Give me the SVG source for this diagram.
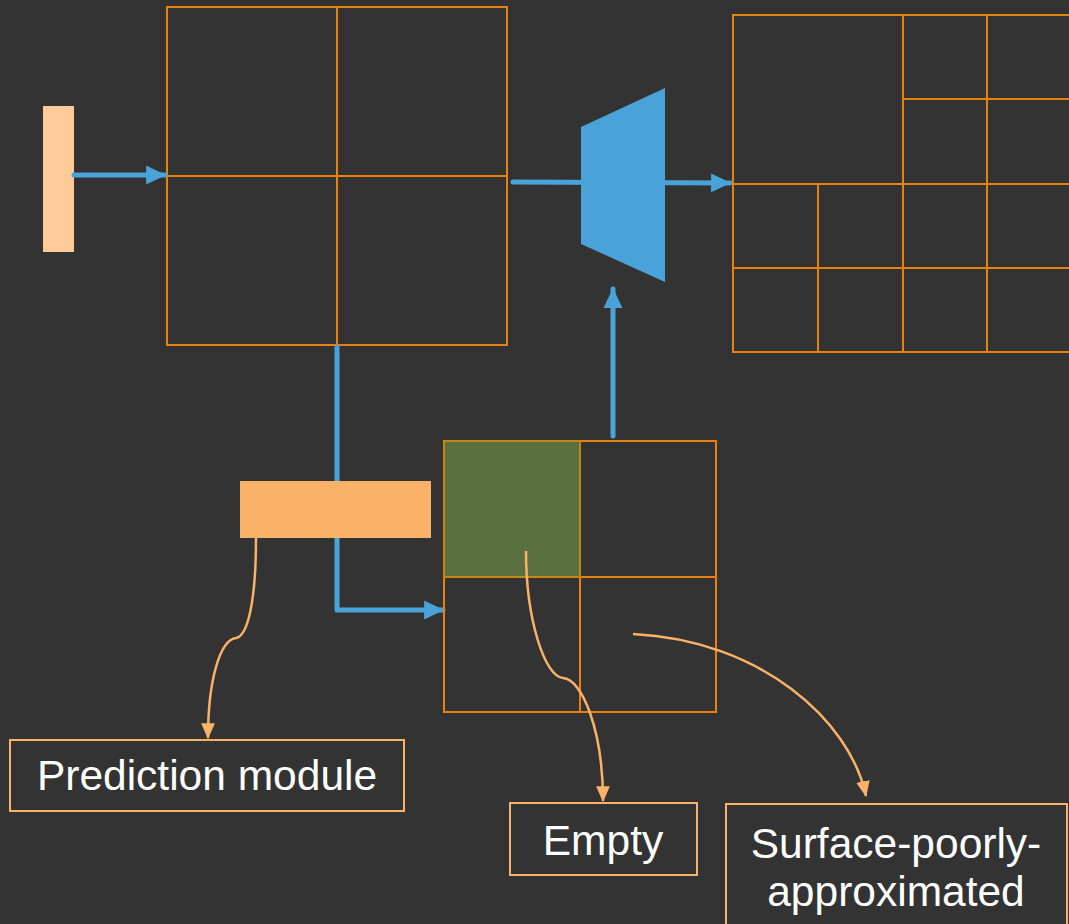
<svg xmlns="http://www.w3.org/2000/svg" width="1069" height="924" viewBox="0 0 1069 924">
  <defs>
    <style>
      .grid { fill: none; stroke: #E8810F; stroke-width: 2; }
      .flow { fill: none; stroke: #4AA3D8; stroke-width: 5; stroke-linecap: round; stroke-linejoin: round; }
      .callout { fill: none; stroke: #F9B268; stroke-width: 2.5; }
      .label-box { fill: none; stroke: #F9B268; stroke-width: 2; }
      .label { font-family: "Liberation Sans", Arial, sans-serif; font-size: 42.5px; fill: #FFFFFF; text-anchor: middle; }
    </style>
    <marker id="blueHead" markerUnits="userSpaceOnUse" markerWidth="20" markerHeight="20" viewBox="0 0 18 18" refX="17" refY="9" orient="auto">
      <path d="M0,0.5 L18,9 L0,17.5 Z" fill="#4AA3D8"/>
    </marker>
    <marker id="orangeHead" markerUnits="userSpaceOnUse" markerWidth="16" markerHeight="16" viewBox="0 0 14 14" refX="13" refY="7" orient="auto">
      <path d="M0,1 L14,7 L0,13 Z" fill="#F9B268"/>
    </marker>
  </defs>

  <rect width="1069" height="924" fill="#333333"/>

  <!-- input feature bar -->
  <g id="input-bar">
    <rect x="43" y="106" width="31" height="146" fill="#FDCB98"/>
  </g>

  <!-- coarse 2x2 grid -->
  <g id="coarse-grid">
    <rect class="grid" x="167" y="7" width="340" height="338"/>
    <line class="grid" x1="337" y1="7" x2="337" y2="345"/>
    <line class="grid" x1="167" y1="176" x2="507" y2="176"/>
  </g>

  <!-- connectors -->
  <g id="connectors">
    <line class="flow" x1="74" y1="175" x2="165" y2="175" marker-end="url(#blueHead)"/>
    <line class="flow" x1="513" y1="182" x2="730" y2="183" marker-end="url(#blueHead)"/>
    <polyline class="flow" points="337,347 337,610 443,610" marker-end="url(#blueHead)"/>
    <line class="flow" x1="613" y1="436" x2="613" y2="289" marker-end="url(#blueHead)"/>
  </g>

  <!-- decoder block -->
  <g id="decoder">
    <polygon points="581,127 665,88 665,282 581,244" fill="#4AA3D8"/>
  </g>

  <!-- refined octree grid -->
  <g id="refined-grid">
    <rect class="grid" x="733" y="15" width="340" height="337"/>
    <line class="grid" x1="903" y1="15" x2="903" y2="352"/>
    <line class="grid" x1="987" y1="15" x2="987" y2="352"/>
    <line class="grid" x1="818" y1="184" x2="818" y2="352"/>
    <line class="grid" x1="733" y1="184" x2="1073" y2="184"/>
    <line class="grid" x1="903" y1="99" x2="1073" y2="99"/>
    <line class="grid" x1="733" y1="268" x2="1073" y2="268"/>
  </g>

  <!-- prediction module bar -->
  <g id="prediction-bar">
    <rect x="240" y="481" width="191" height="57" fill="#F9B268"/>
  </g>

  <!-- cell classification grid -->
  <g id="cell-grid">
    <rect x="444" y="441" width="136" height="136" fill="#5A713F"/>
    <rect class="grid" x="444" y="441" width="272" height="271"/>
    <line class="grid" x1="580" y1="441" x2="580" y2="712"/>
    <line class="grid" x1="444" y1="577" x2="716" y2="577"/>
    <rect x="444" y="441" width="136" height="136" fill="none" stroke="#B88A10" stroke-width="1.5"/>
  </g>

  <!-- callout curves -->
  <g id="callouts">
    <path class="callout" d="M256,538 C256,600 248,636 236,638 C220,640 208,680 208,738" marker-end="url(#orangeHead)"/>
    <path class="callout" d="M526,551 C526,620 545,677 563,678 C582,679 603,730 603,801" marker-end="url(#orangeHead)"/>
    <path class="callout" d="M633,634 C760,640 850,720 866,796" marker-end="url(#orangeHead)"/>
  </g>

  <g id="label-prediction">
    <rect class="label-box" x="10" y="740" width="394" height="71"/>
    <text class="label" x="207" y="790">Prediction module</text>
  </g>

  <g id="label-empty">
    <rect class="label-box" x="510" y="803" width="187" height="72"/>
    <text class="label" x="603" y="855">Empty</text>
  </g>

  <g id="label-surface">
    <rect class="label-box" x="726" y="804" width="341" height="130"/>
    <text class="label" x="896" y="858">Surface-poorly-</text>
    <text class="label" x="896" y="906">approximated</text>
  </g>
</svg>
